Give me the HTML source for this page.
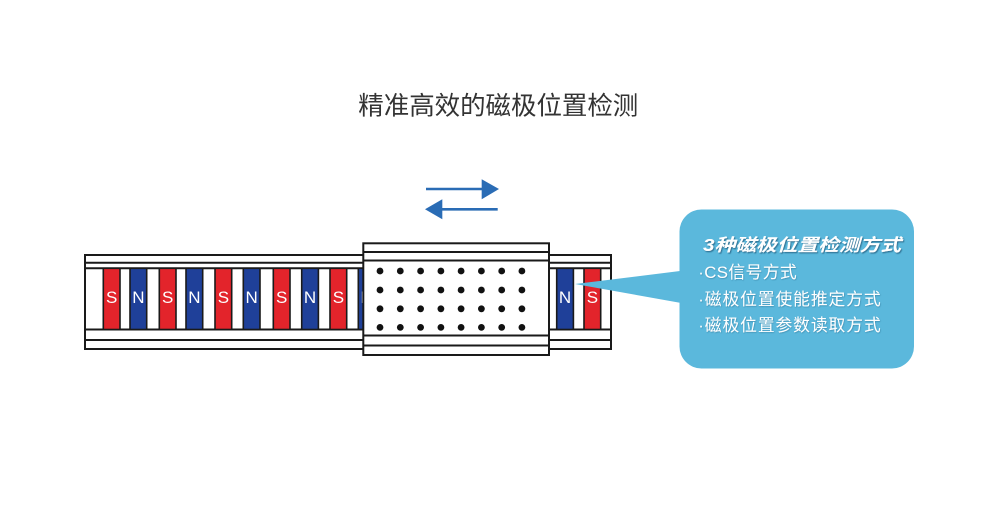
<!DOCTYPE html>
<html><head><meta charset="utf-8">
<style>
html,body{margin:0;padding:0;background:#fff;}
body{width:1000px;height:510px;overflow:hidden;}
svg{display:block;}
.cjk{font-family:"Liberation Sans","Noto Sans CJK SC",sans-serif;}
</style></head>
<body>
<svg width="1000" height="510" viewBox="0 0 1000 510" xmlns="http://www.w3.org/2000/svg">
<defs>
<filter id="sh" x="-5%" y="-20%" width="110%" height="150%">
<feDropShadow dx="1" dy="1.2" stdDeviation="0.6" flood-color="#2b6a8c" flood-opacity="0.9"/>
</filter>
<filter id="sh2" x="-5%" y="-20%" width="110%" height="150%">
<feDropShadow dx="0.6" dy="0.8" stdDeviation="0.5" flood-color="#2f7394" flood-opacity="0.6"/>
</filter>
</defs>

<!-- Title -->
<text x="358.3" y="106.7" dominant-baseline="central" class="cjk" font-size="25.5" fill="#333" textLength="280" lengthAdjust="spacing">精准高效的磁极位置检测</text>

<!-- Arrows -->
<line x1="426" y1="189" x2="484" y2="189" stroke="#2a6cb5" stroke-width="2.6"/>
<polygon points="481.7,179.3 499,189 481.7,199.3" fill="#2a6cb5"/>
<line x1="440" y1="209.3" x2="497.7" y2="209.3" stroke="#2a6cb5" stroke-width="2.6"/>
<polygon points="425,209.3 442.3,199.3 442.3,219.3" fill="#2a6cb5"/>

<!-- Rail -->
<rect x="85" y="255" width="526" height="94" fill="#fff" stroke="#1a1a1a" stroke-width="2"/>
<line x1="85" y1="262.7" x2="611" y2="262.7" stroke="#1a1a1a" stroke-width="2"/>
<line x1="85" y1="268.3" x2="611" y2="268.3" stroke="#1a1a1a" stroke-width="2"/>
<line x1="85" y1="329.5" x2="611" y2="329.5" stroke="#1a1a1a" stroke-width="2"/>
<line x1="85" y1="340" x2="611" y2="340" stroke="#1a1a1a" stroke-width="2"/>

<!-- Magnets -->
<g stroke="#1a1a1a" stroke-width="1.6">
<rect x="103.3" y="268.3" width="16.7" height="61.2" fill="#e3242b"/>
<rect x="130" y="268.3" width="16.7" height="61.2" fill="#1f4099"/>
<rect x="159.3" y="268.3" width="16.7" height="61.2" fill="#e3242b"/>
<rect x="186" y="268.3" width="16.7" height="61.2" fill="#1f4099"/>
<rect x="215" y="268.3" width="16.7" height="61.2" fill="#e3242b"/>
<rect x="243.3" y="268.3" width="16.7" height="61.2" fill="#1f4099"/>
<rect x="273.3" y="268.3" width="16.7" height="61.2" fill="#e3242b"/>
<rect x="301.7" y="268.3" width="16.7" height="61.2" fill="#1f4099"/>
<rect x="330" y="268.3" width="16.7" height="61.2" fill="#e3242b"/>
<rect x="358.3" y="268.3" width="16.7" height="61.2" fill="#1f4099"/>
<rect x="556.7" y="268.3" width="16.7" height="61.2" fill="#1f4099"/>
<rect x="584" y="268.3" width="16.7" height="61.2" fill="#e3242b"/>
</g>
<g font-family="Liberation Sans, sans-serif" font-size="17" fill="#fff" text-anchor="middle" dominant-baseline="central">
<text x="111.7" y="297.5">S</text>
<text x="138.4" y="297.5">N</text>
<text x="167.7" y="297.5">S</text>
<text x="194.4" y="297.5">N</text>
<text x="223.4" y="297.5">S</text>
<text x="251.7" y="297.5">N</text>
<text x="281.7" y="297.5">S</text>
<text x="310" y="297.5">N</text>
<text x="338.4" y="297.5">S</text>
<text x="366.7" y="297.5">N</text>
<text x="565" y="297.5">N</text>
<text x="592.4" y="297.5">S</text>
</g>

<!-- Carriage -->
<rect x="363.3" y="243.3" width="185.7" height="111.7" fill="#fff" stroke="#1a1a1a" stroke-width="2"/>
<line x1="363.3" y1="252" x2="549" y2="252" stroke="#1a1a1a" stroke-width="2"/>
<line x1="363.3" y1="260.5" x2="549" y2="260.5" stroke="#1a1a1a" stroke-width="2"/>
<line x1="363.3" y1="335.5" x2="549" y2="335.5" stroke="#1a1a1a" stroke-width="2"/>
<line x1="363.3" y1="345.5" x2="549" y2="345.5" stroke="#1a1a1a" stroke-width="2"/>
<g fill="#111">
<circle cx="380" cy="271" r="3.4"/><circle cx="400.3" cy="271" r="3.4"/><circle cx="420.6" cy="271" r="3.4"/><circle cx="440.9" cy="271" r="3.4"/><circle cx="461.1" cy="271" r="3.4"/><circle cx="481.4" cy="271" r="3.4"/><circle cx="501.7" cy="271" r="3.4"/><circle cx="521.9" cy="271" r="3.4"/>
<circle cx="380" cy="290" r="3.4"/><circle cx="400.3" cy="290" r="3.4"/><circle cx="420.6" cy="290" r="3.4"/><circle cx="440.9" cy="290" r="3.4"/><circle cx="461.1" cy="290" r="3.4"/><circle cx="481.4" cy="290" r="3.4"/><circle cx="501.7" cy="290" r="3.4"/><circle cx="521.9" cy="290" r="3.4"/>
<circle cx="380" cy="308.8" r="3.4"/><circle cx="400.3" cy="308.8" r="3.4"/><circle cx="420.6" cy="308.8" r="3.4"/><circle cx="440.9" cy="308.8" r="3.4"/><circle cx="461.1" cy="308.8" r="3.4"/><circle cx="481.4" cy="308.8" r="3.4"/><circle cx="501.7" cy="308.8" r="3.4"/><circle cx="521.9" cy="308.8" r="3.4"/>
<circle cx="380" cy="327.4" r="3.4"/><circle cx="400.3" cy="327.4" r="3.4"/><circle cx="420.6" cy="327.4" r="3.4"/><circle cx="440.9" cy="327.4" r="3.4"/><circle cx="461.1" cy="327.4" r="3.4"/><circle cx="481.4" cy="327.4" r="3.4"/><circle cx="501.7" cy="327.4" r="3.4"/><circle cx="521.9" cy="327.4" r="3.4"/>
</g>

<!-- Callout -->
<polygon points="575,284 684,270.5 684,303.5" fill="#5bb8dc"/>
<rect x="679.5" y="209.5" width="234.5" height="159" rx="22" ry="22" fill="#5bb8dc"/>

<text x="703" y="245" dominant-baseline="central" class="cjk" font-size="17.5" font-weight="bold" font-style="italic" fill="#fff" filter="url(#sh)" textLength="198" lengthAdjust="spacingAndGlyphs">3种磁极位置检测方式</text>

<g class="cjk" font-size="16.8" fill="#fff" filter="url(#sh2)">
<text x="698.3" y="272.7" dominant-baseline="central" textLength="98.4" lengthAdjust="spacing">·CS信号方式</text>
<text x="698.3" y="299.7" dominant-baseline="central" textLength="182.4" lengthAdjust="spacing">·磁极位置使能推定方式</text>
<text x="698.3" y="325.7" dominant-baseline="central" textLength="182.4" lengthAdjust="spacing">·磁极位置参数读取方式</text>
</g>
</svg>
</body></html>
